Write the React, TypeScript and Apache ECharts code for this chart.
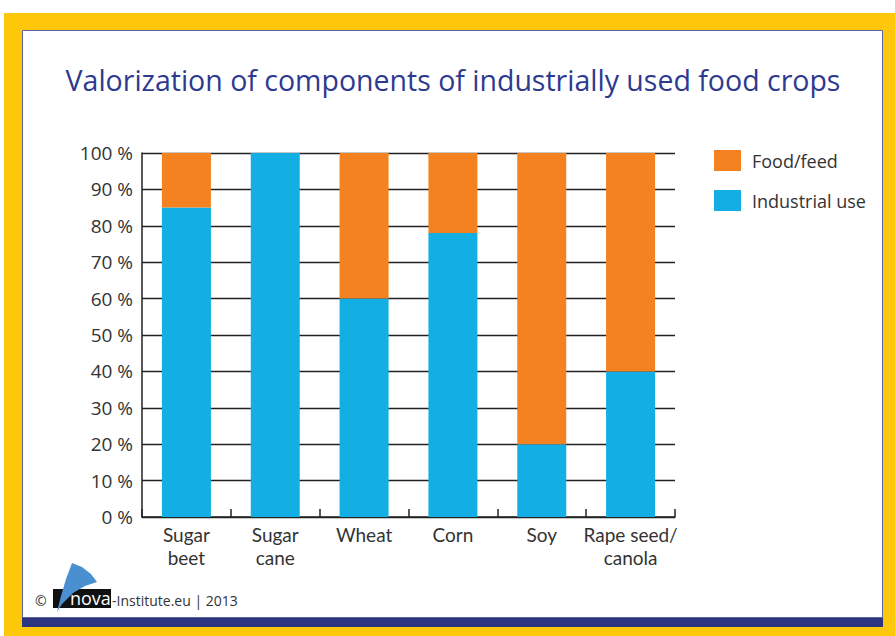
import React, { useEffect, useRef } from "react";
import * as echarts from "echarts";

const categories = ["Sugar\nbeet", "Sugar\ncane", "Wheat", "Corn", "Soy", "Rape seed/\ncanola"];
const industrialUse = [85, 100, 60, 78, 20, 40];
const foodFeed = [15, 0, 40, 22, 80, 60];
const yTicks = { min: 0, max: 100, interval: 10 };

const FONT = "'Open Sans', 'Noto Sans', sans-serif";
const ORANGE = "#f58220";
const BLUE = "#13afe4";
const NAVY = "#2b3580";
const YELLOW = "#ffc709";

export default function App() {
  const ref = useRef<HTMLDivElement>(null);
  useEffect(() => {
    if (!ref.current) return;
    const chart = echarts.init(ref.current, null, { renderer: "svg" });
    chart.setOption({
      animation: false,
      backgroundColor: "#ffffff",
      textStyle: { fontFamily: FONT },
      grid: { left: 142, right: 220, top: 153, bottom: 119, containLabel: false },
      legend: {
        data: ["Food/feed", "Industrial use"],
        orient: "vertical",
        left: 709,
        top: 145,
        itemWidth: 27,
        itemHeight: 21,
        itemGap: 19,
        icon: "rect",
        textStyle: { fontSize: 18, color: "#333", fontFamily: FONT, padding: [0, 0, 0, 6] },
      },
      xAxis: {
        type: "category",
        data: categories,
        axisLine: { lineStyle: { color: "#222", width: 1.5 } },
        axisTick: { show: true, inside: true, length: 8, lineStyle: { color: "#222", width: 1.5 } },
        axisLabel: { fontSize: 19, color: "#333", lineHeight: 23, margin: 6, fontFamily: "Lato, 'Open Sans', sans-serif", interval: 0 },
      },
      yAxis: {
        type: "value",
        min: yTicks.min,
        max: yTicks.max,
        interval: yTicks.interval,
        axisLine: { show: true, lineStyle: { color: "#222", width: 1.5 } },
        axisTick: { show: false },
        splitLine: { lineStyle: { color: "#222", width: 1.3 } },
        axisLabel: { formatter: "{value} %", fontSize: 19, color: "#333", margin: 9, fontFamily: FONT },
      },
      series: [
        {
          name: "Industrial use",
          type: "bar",
          stack: "total",
          data: industrialUse,
          barWidth: 49,
          itemStyle: { color: BLUE },
        },
        {
          name: "Food/feed",
          type: "bar",
          stack: "total",
          data: foodFeed,
          barWidth: 49,
          itemStyle: { color: ORANGE },
        },
      ],
      graphic: [
        { type: "rect", shape: { x: 4, y: 13, width: 891, height: 17 }, style: { fill: YELLOW }, silent: true },
        { type: "rect", shape: { x: 4, y: 13, width: 18, height: 623 }, style: { fill: YELLOW }, silent: true },
        { type: "rect", shape: { x: 883, y: 13, width: 12, height: 623 }, style: { fill: YELLOW }, silent: true },
        { type: "rect", shape: { x: 4, y: 627, width: 891, height: 9 }, style: { fill: YELLOW }, silent: true },
        { type: "rect", shape: { x: 22, y: 617, width: 861, height: 10 }, style: { fill: NAVY }, silent: true },
        { type: "rect", shape: { x: 22.5, y: 30.5, width: 860, height: 587 }, style: { fill: "none", stroke: "#5a62a0", lineWidth: 1 }, silent: true },
        {
          type: "text",
          x: 453,
          y: 80,
          style: {
            text: "Valorization of components of industrially used food crops",
            fill: "#2e3a8f",
            fontSize: 28.5,
            fontFamily: FONT,
            align: "center",
            verticalAlign: "middle",
          },
        },
        {
          type: "text",
          x: 35,
          y: 600,
          style: { text: "©", fill: "#333", fontSize: 14, fontFamily: FONT, verticalAlign: "middle" },
        },
        { type: "rect", shape: { x: 53, y: 589, width: 58, height: 19 }, style: { fill: "#111" } },
        {
          type: "polygon",
          shape: {
            points: [[57, 612], [61, 596], [66, 579], [72, 563], [82, 567], [91, 574], [97, 582], [85, 586], [73, 593], [62, 604]],
          },
          style: { fill: "#4a90d0" },
        },
        {
          type: "text",
          x: 70,
          y: 598,
          style: { text: "nova", fill: "#ffffff", fontSize: 18, fontFamily: FONT, verticalAlign: "middle" },
        },
        {
          type: "text",
          x: 112,
          y: 600,
          style: { text: "-Institute.eu | 2013", fill: "#333", fontSize: 14, fontFamily: FONT, verticalAlign: "middle" },
        },
      ],
    });
    return () => chart.dispose();
  }, []);
  return <div ref={ref} style={{ position: "fixed", left: 0, top: 0, width: 895, height: 636 }} />;
}
